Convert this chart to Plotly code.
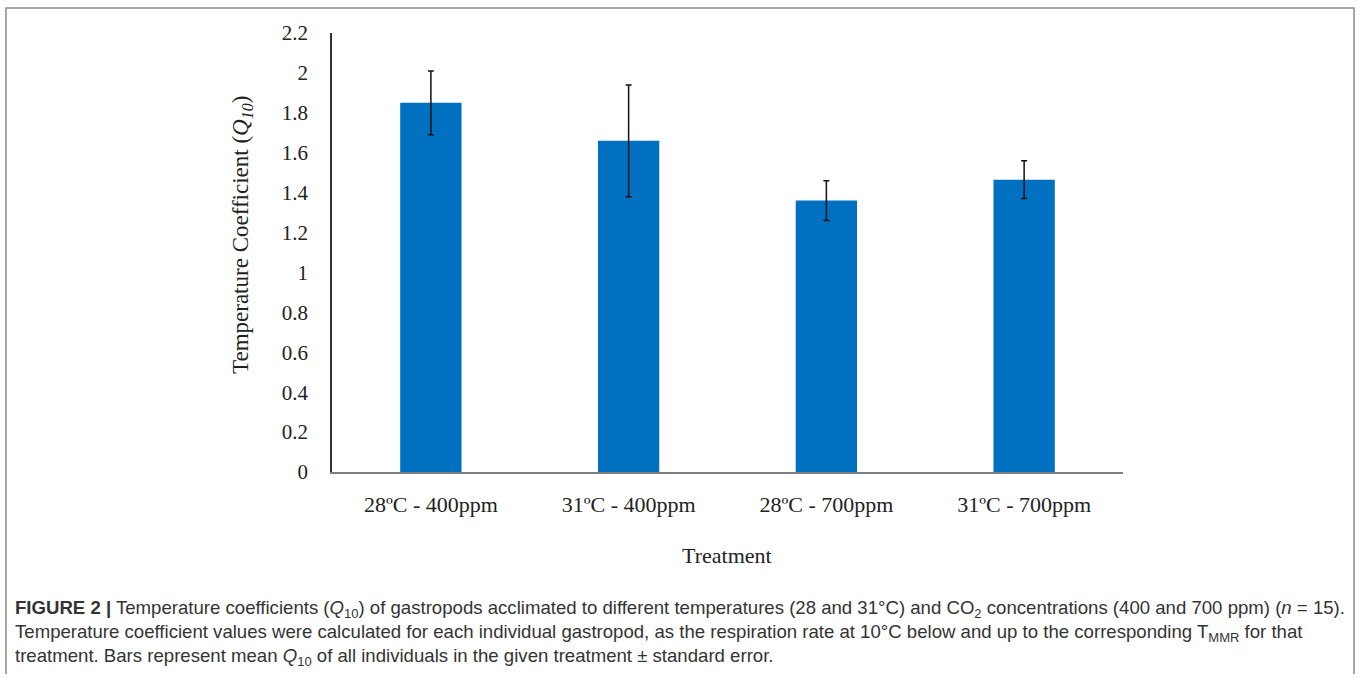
import plotly.graph_objects as go

categories = ["28ºC - 400ppm", "31ºC - 400ppm", "28ºC - 700ppm", "31ºC - 700ppm"]
q10_mean = [1.85, 1.66, 1.36, 1.465]
q10_se = [0.16, 0.28, 0.10, 0.095]
y_ticks = [0, 0.2, 0.4, 0.6, 0.8, 1, 1.2, 1.4, 1.6, 1.8, 2, 2.2]
y_ticklabels = ["0", "0.2", "0.4", "0.6", "0.8", "1", "1.2", "1.4", "1.6", "1.8", "2", "2.2"]

W, H = 1360, 674
L, R, T, B = 332, 237, 33, 674 - 472
PW, PH = W - L - R, H - T - B

def px(x):
    return (x - L) / PW

def py(y):
    return (H - B - y) / PH

serif = "Liberation Serif, Times New Roman, serif"
cap_font = "Liberation Sans, Arial, sans-serif"
txt = "#222222"

fig = go.Figure()
fig.add_trace(go.Bar(
    x=categories, y=q10_mean,
    marker=dict(color="#0070C0", line=dict(width=0)),
    error_y=dict(type="data", array=q10_se, visible=True, color="#111111", thickness=1.5, width=3),
    width=0.31,
))

fig.update_layout(
    width=W, height=H,
    margin=dict(l=L, r=R, t=T, b=B),
    paper_bgcolor="white", plot_bgcolor="white",
    showlegend=False,
    font=dict(family=serif, size=22, color=txt),
    xaxis=dict(
        showline=True, linecolor="#808080", linewidth=2,
        showgrid=False, ticks="", tickfont=dict(family=serif, size=22, color=txt),
        ticklabelstandoff=12,
    ),
    yaxis=dict(
        range=[0, 2.2], tickvals=y_ticks, ticktext=y_ticklabels,
        showline=True, linecolor="#333333", linewidth=1.5,
        showgrid=False, zeroline=False, ticks="",
        tickfont=dict(family=serif, size=21, color=txt),
        ticklabelstandoff=18,
    ),
)

cap = dict(family=cap_font, size=18.6, color="#333333")
annotations = [
    dict(text="Temperature Coefficient (<i>Q<sub>10</sub></i>)", x=px(242), y=py(235),
         xref="paper", yref="paper", textangle=-90, showarrow=False,
         font=dict(family=serif, size=23, color=txt), xanchor="center", yanchor="middle"),
    dict(text="Treatment", x=px(727), y=py(555), xref="paper", yref="paper", showarrow=False,
         font=dict(family=serif, size=22, color=txt), xanchor="center", yanchor="middle"),
    dict(text="<b>FIGURE 2 |</b> Temperature coefficients (<i>Q</i><sub>10</sub>) of gastropods acclimated to different temperatures (28 and 31°C) and CO<sub>2</sub> concentrations (400 and 700 ppm) (<i>n</i> = 15).",
         x=px(13), y=py(609), xref="paper", yref="paper", showarrow=False,
         font=cap, xanchor="left", yanchor="middle"),
    dict(text="Temperature coefficient values were calculated for each individual gastropod, as the respiration rate at 10°C below and up to the corresponding T<sub>MMR</sub> for that",
         x=px(13), y=py(633), xref="paper", yref="paper", showarrow=False,
         font=cap, xanchor="left", yanchor="middle"),
    dict(text="treatment. Bars represent mean <i>Q</i><sub>10</sub> of all individuals in the given treatment ± standard error.",
         x=px(13), y=py(657), xref="paper", yref="paper", showarrow=False,
         font=cap, xanchor="left", yanchor="middle"),
]
fig.update_layout(annotations=annotations)

fig.add_shape(type="rect", xref="paper", yref="paper",
              x0=px(6), x1=px(1354), y0=py(700), y1=py(8),
              line=dict(color="#8a8a8a", width=1.5), fillcolor="rgba(0,0,0,0)", layer="below")

fig.write_html("out.html", config={"displayModeBar": False},
               post_script="document.body.style.margin='0px';document.body.style.overflow='hidden';")
